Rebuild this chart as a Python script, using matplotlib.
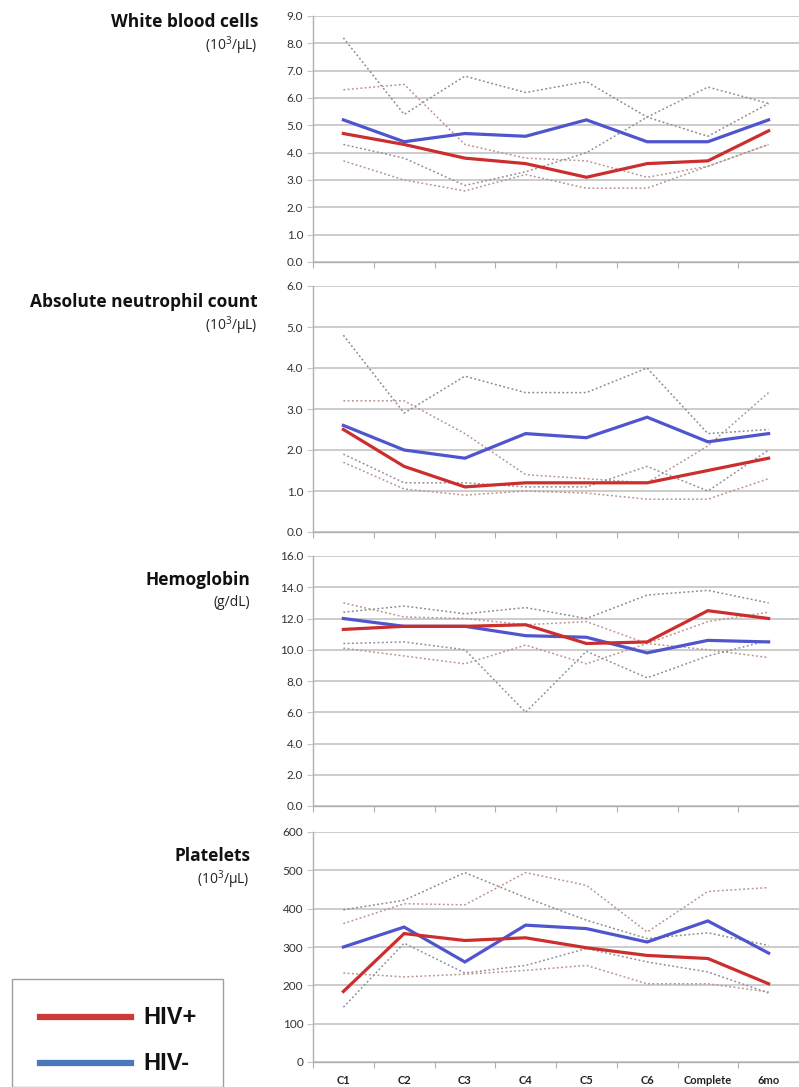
import matplotlib
matplotlib.use('Agg')
import matplotlib.pyplot as plt
from matplotlib.lines import Line2D
from matplotlib.patches import Rectangle

categories = ['C1', 'C2', 'C3', 'C4', 'C5', 'C6', 'Complete', '6mo']

# White blood cells (10^3/uL)
wbc_pos = [4.7, 4.3, 3.8, 3.6, 3.1, 3.6, 3.7, 4.8]
wbc_neg = [5.2, 4.4, 4.7, 4.6, 5.2, 4.4, 4.4, 5.2]
wbc_r1 = [8.2, 5.4, 6.8, 6.2, 6.6, 5.3, 4.6, 5.8]
wbc_r2 = [6.3, 6.5, 4.3, 3.8, 3.7, 3.1, 3.5, 4.3]
wbc_r3 = [4.3, 3.8, 2.8, 3.3, 4.0, 5.3, 6.4, 5.8]
wbc_r4 = [3.7, 3.0, 2.6, 3.2, 2.7, 2.7, 3.5, 4.3]

# Absolute neutrophil count (10^3/uL)
anc_pos = [2.5, 1.6, 1.1, 1.2, 1.2, 1.2, 1.5, 1.8]
anc_neg = [2.6, 2.0, 1.8, 2.4, 2.3, 2.8, 2.2, 2.4]
anc_r1 = [4.8, 2.9, 3.8, 3.4, 3.4, 4.0, 2.4, 2.5]
anc_r2 = [3.2, 3.2, 2.4, 1.4, 1.3, 1.2, 2.1, 3.4]
anc_r3 = [1.9, 1.2, 1.2, 1.1, 1.1, 1.6, 1.0, 2.0]
anc_r4 = [1.7, 1.05, 0.9, 1.0, 0.95, 0.8, 0.8, 1.3]

# Hemoglobin (g/dL)
hgb_pos = [11.3, 11.5, 11.5, 11.6, 10.4, 10.5, 12.5, 12.0]
hgb_neg = [12.0, 11.5, 11.5, 10.9, 10.8, 9.8, 10.6, 10.5]
hgb_r1 = [12.4, 12.8, 12.3, 12.7, 12.0, 13.5, 13.8, 13.0]
hgb_r2 = [13.0, 12.1, 12.0, 11.6, 11.8, 10.4, 10.0, 9.5]
hgb_r3 = [10.4, 10.5, 10.0, 6.0, 9.9, 8.2, 9.6, 10.6]
hgb_r4 = [10.1, 9.6, 9.1, 10.3, 9.1, 10.4, 11.8, 12.4]

# Platelets (10^3/uL)
plt_pos = [184, 335, 317, 324, 298, 278, 270, 204]
plt_neg = [300, 352, 261, 357, 348, 313, 368, 284]
plt_r1 = [397, 422, 494, 429, 370, 322, 337, 304]
plt_r2 = [361, 413, 410, 494, 461, 339, 445, 455]
plt_r3 = [143, 310, 232, 252, 296, 261, 235, 180]
plt_r4 = [232, 222, 229, 239, 252, 204, 204, 183]

titles = ['White blood cells', 'Absolute neutrophil count', 'Hemoglobin', 'Platelets']
units = ['(10$^3$/\u03bcL)', '(10$^3$/\u03bcL)', '(g/dL)', '(10$^3$/\u03bcL)']

panels = [
    (wbc_pos, wbc_neg, [wbc_r1, wbc_r2, wbc_r3, wbc_r4], 9.0, 1.0, '{:.1f}'),
    (anc_pos, anc_neg, [anc_r1, anc_r2, anc_r3, anc_r4], 6.0, 1.0, '{:.1f}'),
    (hgb_pos, hgb_neg, [hgb_r1, hgb_r2, hgb_r3, hgb_r4], 16.0, 2.0, '{:.1f}'),
    (plt_pos, plt_neg, [plt_r1, plt_r2, plt_r3, plt_r4], 600, 100, '{:.0f}'),
]

W, H = 799, 1087
fig = plt.figure(figsize=(W / 100, H / 100), dpi=100)
plt.rcParams['font.family'] = ['Lato', 'DejaVu Sans']
plt.rcParams['mathtext.fontset'] = 'custom'
plt.rcParams['mathtext.rm'] = 'Open Sans'

# (top px, bottom px) of each plot area
boxes = [(16, 262), (286, 532), (556, 806), (832, 1062)]
left_px, right_px = 313, 799
title_pos = [(258, 22, 46), (258, 302, 326), (250, 580, 603), (250, 856, 880)]

red = '#cc2e2e'
blue = '#4f55cc'
dot_cols = ['#8a8a8a', '#b8948a', '#8e8e9a', '#b8948a']

x = list(range(len(categories)))
for i, (pos, neg, ranges, ymax, step, fmt) in enumerate(panels):
    top, bot = boxes[i]
    ax = fig.add_axes([left_px / W, 1 - bot / H, (right_px - left_px) / W, (bot - top) / H])
    ax.set_xlim(-0.5, len(categories) - 0.5)
    ax.set_ylim(0, ymax)
    yt = [k * step for k in range(int(round(ymax / step)) + 1)]
    ax.set_yticks(yt)
    ax.set_yticklabels([fmt.format(v) for v in yt], fontsize=8.5, color='#333333')
    ax.yaxis.grid(True, color='#c8c8c8', linewidth=1.3)
    ax.set_axisbelow(True)
    for s in ['top', 'right']:
        ax.spines[s].set_visible(False)
    ax.spines['left'].set_color('#b0b0b0')
    ax.spines['bottom'].set_color('#b0b0b0')
    ax.spines['left'].set_linewidth(1.0)
    ax.spines['bottom'].set_linewidth(1.0)
    ax.tick_params(axis='y', length=4, color='#c8c8c8', pad=3)
    ax.set_xticks([k - 0.5 for k in range(len(categories) + 1)])
    ax.set_xticklabels([])
    ax.set_xticks(x, minor=True)
    ax.tick_params(axis='x', which='major', length=4, color='#b0b0b0', direction='out')
    ax.tick_params(axis='x', which='minor', length=0)
    if i == len(panels) - 1:
        ax.set_xticklabels(categories, minor=True, fontsize=8, fontweight='bold', color='#222222')
        ax.tick_params(axis='x', which='minor', pad=9)
    for r, c in zip(ranges, dot_cols):
        ax.plot(x, r, color=c, linewidth=1.1, linestyle=(0, (1.2, 1.6)))
    ax.plot(x, neg, color=blue, linewidth=2.3, solid_joinstyle='miter')
    ax.plot(x, pos, color=red, linewidth=2.3, solid_joinstyle='miter')

    tx, ty, uy = title_pos[i]
    fig.text(tx / W, 1 - ty / H, titles[i], ha='right', va='center', fontsize=12.5,
             fontweight='bold', color='#111111', family=['Open Sans', 'DejaVu Sans'])
    fig.text(tx / W, 1 - uy / H, units[i], ha='right', va='center', fontsize=10,
             color='#222222', family=['Open Sans', 'DejaVu Sans'])

# legend
fig.patches.append(Rectangle((12 / W, 0), (223 - 12) / W, 1 - 979 / H, transform=fig.transFigure,
                             facecolor='white', edgecolor='#a0a0a0', linewidth=1.0))
fig.lines.append(Line2D([40 / W, 131 / W], [1 - 1017 / H] * 2, transform=fig.transFigure,
                        color='#cc3a3a', linewidth=4.5))
fig.lines.append(Line2D([40 / W, 131 / W], [1 - 1063 / H] * 2, transform=fig.transFigure,
                        color='#4a78bc', linewidth=4.5))
fig.text(143 / W, 1 - 1017 / H, 'HIV+', ha='left', va='center', fontsize=17, fontweight='bold',
         family=['Liberation Sans', 'DejaVu Sans'], color='#111111')
fig.text(143 / W, 1 - 1063 / H, 'HIV-', ha='left', va='center', fontsize=17, fontweight='bold',
         family=['Liberation Sans', 'DejaVu Sans'], color='#111111')

fig.savefig('out.png', dpi=100, facecolor='white')
